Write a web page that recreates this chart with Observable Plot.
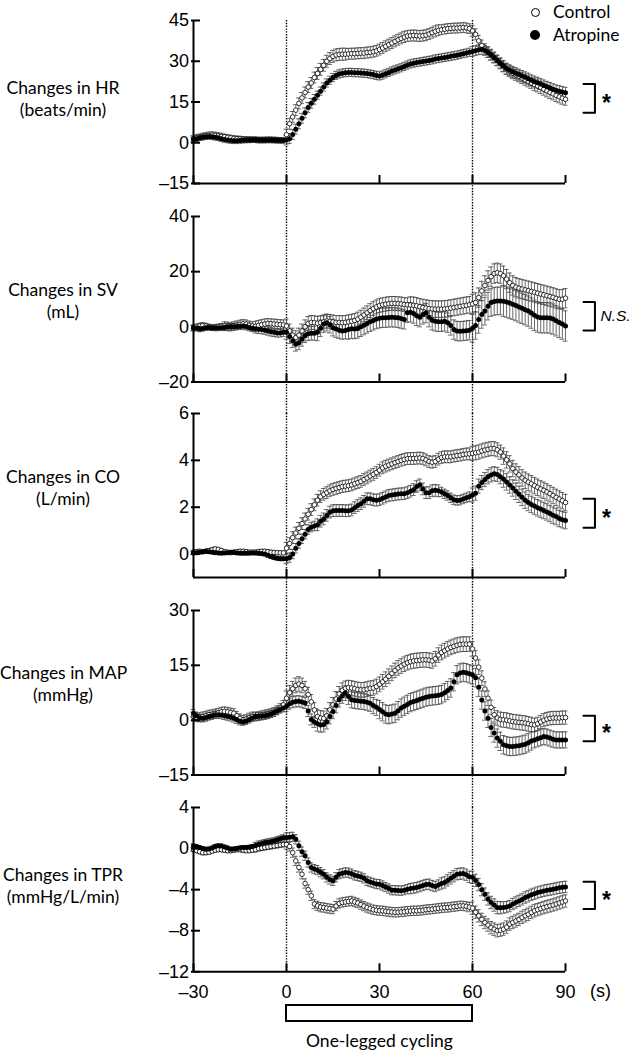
<!DOCTYPE html>
<html><head><meta charset="utf-8">
<script src="https://cdn.jsdelivr.net/npm/d3@7"></script>
<script src="https://cdn.jsdelivr.net/npm/@observablehq/plot@0.6"></script>
<style>
body{margin:0;background:#fff}
#chart{position:relative;width:631px;height:1053px;overflow:hidden;background:#fff}
.lab{position:absolute;left:0;width:126px;text-align:center;font-family:Lato,sans-serif;font-size:17.5px;line-height:22px;color:#000;white-space:nowrap}
.leg{position:absolute;left:553px;font-family:Lato,sans-serif;font-size:17.5px;line-height:22px;color:#000}
.mk{position:absolute;border-radius:50%;box-sizing:border-box}
</style></head><body><div id="chart"></div><script>
// ---- time grid (s) ----
const time = d3.range(-30, 91);
const xTicks = [-30, 0, 30, 60, 90];
const cyclingOnOff = [0, 60];

// ---- HR (beats/min) ----
const hrControl = [1.5,1.8,2.0,2.3,2.5,2.7,2.8,2.7,2.5,2.3, 2.2,2.0,1.8,1.6,1.5,1.4,1.3,1.2,1.2,1.1, 1.1,1.0,1.0,1.0,1.1,1.1,1.0,1.0,0.9,0.9,
 3.0,7.0,9.5,12.0,14.5,16.5,18.5,20.5,22.0,24.0, 25.5,27.0,28.5,30.0,31.0,31.8,32.3,32.5,32.6,32.6, 32.7,32.8,32.8,32.9,33.0,33.0,33.2,33.3,33.5,33.8,
 34.3,34.9,35.5,36.1,36.7,37.3,37.9,38.4,38.9,39.3, 39.4,39.5,39.4,39.3,39.4,39.6,40.0,40.5,41.0,41.4, 41.6,41.8,42.0,42.1,42.2,42.2,42.3,42.4,42.3,42.0,
 41.2,39.9,37.5,35.8,34.4,33.4,32.4,31.4,30.3,29.2, 28.1,27.1,26.3,25.6,25.0,24.4,23.8,23.2,22.6,22.0, 21.4,20.9,20.3,19.7,19.1,18.5,18.0,17.4,16.9,16.4, 16.0];
const hrAtropine = [1.2,1.5,1.8,2.0,2.2,2.3,2.2,2.0,1.8,1.5, 1.2,1.0,0.8,0.7,0.7,0.8,0.9,1.0,1.0,1.1, 1.1,1.0,1.0,1.0,1.0,1.0,1.0,0.9,0.9,0.9,
 1.0,1.5,3.0,5.0,7.0,9.0,11.0,13.0,14.5,16.0, 17.5,19.0,20.5,22.0,23.0,24.0,24.8,25.3,25.6,25.8, 25.9,25.9,25.8,25.8,25.7,25.6,25.5,25.3,25.1,24.8,
 24.6,24.9,25.4,25.9,26.4,26.8,27.2,27.6,28.1,28.6, 29.0,29.3,29.5,29.7,29.9,30.1,30.3,30.5,30.8,31.0, 31.2,31.4,31.6,31.8,32.0,32.2,32.5,32.8,33.0,33.3,
 33.6,33.9,34.2,34.4,34.0,33.2,32.3,31.3,30.3,29.3, 28.3,27.3,26.7,26.1,25.6,25.1,24.6,24.1,23.6,23.0, 22.5,22.1,21.6,21.1,20.6,20.2,19.7,19.3,19.0,18.7, 18.4];
const hrControlSem = [1.2,1.0,1.0,2.0,2.2,2.0,2.0,2.0,1.8,2.0,2.0,2.2];
const hrAtropineSem = [1.0,1.0,1.0,1.8,1.5,1.5,1.5,1.5,1.5,1.8,2.0,2.0];

// ---- SV (mL) ----
const svControl = [-0.5,0.0,0.3,0.5,0.3,0.0,-0.3,-0.2,0.0,0.2, 0.3,0.2,0.0,0.3,0.6,0.9,1.1,1.0,0.6,0.3, 0.2,0.5,0.8,1.0,1.2,1.1,1.0,0.9,0.8,0.7,
 0.3,-1.5,-3.0,-3.9,-3.0,-1.5,0.0,1.2,1.6,1.5, 1.3,1.5,1.8,2.1,2.0,1.8,1.6,1.6,1.5,1.6, 1.8,2.0,2.3,2.8,3.5,4.3,5.1,5.9,6.6,7.2,
 7.7,8.0,8.2,8.4,8.5,8.5,8.4,8.3,8.1,8.0, 7.9,7.8,7.6,7.3,7.0,6.8,6.6,6.5,6.4,6.4, 6.4,6.5,6.6,6.8,7.0,7.2,7.4,7.6,7.8,8.0,
 8.3,8.8,10.6,13.0,15.0,16.8,18.2,19.3,19.6,19.3, 18.5,17.3,16.0,15.0,14.4,14.0,13.7,13.4,13.1,12.8, 12.5,12.2,11.9,11.6,11.3,11.0,10.7,10.3,10.0,10.0, 10.4];
const svAtropine = [-0.3,-0.5,-0.8,-0.6,-0.3,-0.2,-0.3,-0.4,-0.4,-0.3, -0.2,-0.1,0.0,0.0,0.1,0.2,0.3,0.1,-0.2,-0.5, -0.7,-0.9,-1.0,-1.2,-1.5,-1.8,-2.0,-2.2,-2.2,-2.0,
 -2.0,-3.5,-5.0,-6.3,-5.8,-4.5,-3.2,-2.5,-2.3,-2.3, -2.0,-0.5,1.0,1.5,0.8,-0.3,-0.8,-1.2,-1.5,-1.3, -1.0,-0.7,-0.8,-0.6,0.0,0.6,1.2,1.8,2.3,2.8,
 3.1,3.3,3.3,3.4,3.5,3.4,3.3,3.0,2.7,5.1, 5.3,4.8,4.0,3.5,4.5,5.0,3.5,2.4,2.0,1.8, 1.8,2.0,1.5,0.5,-1.0,-1.5,-1.6,-1.5,-1.4,-1.2,
 -0.5,0.5,2.7,4.5,5.7,7.5,8.8,9.2,9.4,9.4, 9.3,9.0,8.6,8.2,7.7,7.2,6.7,6.2,5.7,5.0, 4.2,3.6,3.3,3.3,3.3,3.2,2.8,2.2,1.6,1.0, 0.3];
const svControlSem = [1.0,1.5,1.8,2.5,2.5,2.5,2.5,3.0,3.0,3.5,3.5,3.5];
const svAtropineSem = [1.0,1.2,1.5,2.5,3.0,3.5,3.5,3.5,3.5,5.0,5.5,5.5];

// ---- CO (L/min) ----
const coControl = [0.08,0.10,0.12,0.10,0.12,0.15,0.18,0.22,0.20,0.15, 0.10,0.08,0.06,0.08,0.10,0.12,0.12,0.10,0.08,0.08, 0.08,0.10,0.12,0.12,0.10,0.08,0.07,0.06,0.05,0.05,
 0.25,0.45,0.70,0.90,1.10,1.30,1.50,1.70,1.90,2.10, 2.30,2.45,2.55,2.62,2.70,2.76,2.80,2.84,2.88,2.90, 2.92,2.95,3.00,3.05,3.10,3.18,3.25,3.33,3.40,3.48,
 3.58,3.68,3.75,3.80,3.85,3.90,3.95,4.00,4.04,4.07, 4.08,4.08,4.09,4.10,4.08,4.02,3.95,3.92,3.95,4.05, 4.12,4.15,4.15,4.15,4.18,4.20,4.22,4.25,4.27,4.28,
 4.30,4.32,4.35,4.40,4.44,4.47,4.50,4.50,4.45,4.35, 4.18,4.02,3.85,3.65,3.50,3.38,3.25,3.15,3.07,3.00, 2.92,2.85,2.78,2.72,2.65,2.58,2.50,2.42,2.35,2.28, 2.20];
const coAtropine = [0.05,0.06,0.08,0.10,0.12,0.10,0.08,0.06,0.05,0.04, 0.05,0.06,0.08,0.07,0.05,0.04,0.03,0.03,0.04,0.05, 0.05,0.04,0.02,0.00,-0.05,-0.10,-0.15,-0.18,-0.20,-0.20,
 -0.20,-0.15,0.00,0.25,0.45,0.65,0.85,1.05,1.15,1.20, 1.25,1.40,1.50,1.65,1.79,1.85,1.86,1.86,1.86,1.85, 1.85,1.88,1.98,2.07,2.15,2.25,2.36,2.36,2.32,2.30,
 2.32,2.38,2.44,2.50,2.52,2.54,2.56,2.57,2.58,2.62, 2.68,2.75,2.88,2.95,2.78,2.62,2.62,2.70,2.72,2.70, 2.65,2.57,2.50,2.40,2.32,2.29,2.30,2.35,2.40,2.45,
 2.52,2.60,2.90,3.05,3.18,3.30,3.38,3.43,3.40,3.30, 3.20,3.08,2.95,2.82,2.68,2.55,2.42,2.30,2.20,2.12, 2.05,1.98,1.92,1.86,1.80,1.73,1.66,1.60,1.52,1.47, 1.43];
const coControlSem = [0.08,0.08,0.08,0.25,0.25,0.25,0.25,0.25,0.25,0.30,0.35,0.35];
const coAtropineSem = [0.06,0.06,0.08,0.20,0.25,0.25,0.25,0.25,0.20,0.30,0.35,0.35];

// ---- MAP (mmHg) ----
const mapControl = [1.0,0.8,0.8,1.0,1.2,1.5,1.6,1.8,2.0,2.3, 2.4,2.3,2.1,1.9,1.2,0.5,0.1,0.3,0.7,1.0, 1.0,1.1,1.3,1.5,1.7,1.9,2.2,2.7,3.3,4.2,
 6.0,7.5,8.6,9.5,9.9,9.5,8.6,7.0,5.0,2.8, 1.0,0.6,0.5,1.2,2.8,4.2,5.8,7.2,8.2,8.7, 8.9,8.8,8.6,8.4,8.3,8.3,8.5,8.7,8.8,9.2,
 9.8,10.5,11.2,12.0,12.8,13.6,14.3,14.8,15.3,15.7, 16.0,16.2,16.3,16.4,16.5,16.5,16.4,16.2,16.8,17.8, 18.5,19.0,19.5,19.9,20.2,20.5,20.7,20.8,20.8,20.8,
 19.5,17.0,14.5,11.5,8.5,6.0,3.5,1.5,0.6,0.2, 0.1,0.0,-0.2,-0.4,-0.5,-0.6,-0.7,-0.8,-1.0,-1.2, -1.3,-1.0,-0.5,0.0,0.3,0.5,0.6,0.6,0.6,0.7, 0.7];
const mapAtropine = [1.9,1.2,0.6,0.5,0.7,1.0,1.2,1.5,1.5,1.4, 1.2,1.0,0.8,0.5,0.1,-0.3,-0.4,-0.2,0.2,0.6, 1.0,1.1,1.1,1.2,1.4,1.7,2.1,2.5,2.9,3.3,
 3.8,4.5,4.9,5.1,5.2,5.0,4.7,2.5,0.2,-0.5, -1.0,-1.3,-1.2,-0.4,1.0,2.4,4.0,5.6,6.6,7.4, 6.5,5.6,5.4,5.3,5.2,5.1,4.9,4.6,4.0,3.5,
 2.9,2.3,1.7,1.5,1.7,1.9,2.6,3.3,3.8,4.3, 4.8,5.1,5.4,5.7,6.0,6.3,6.5,6.6,6.7,6.8, 7.0,7.5,8.1,8.8,10.5,12.4,12.9,13.1,13.0,12.7,
 12.4,11.6,9.0,5.5,2.5,0.5,-2.0,-3.5,-4.9,-5.8, -6.7,-7.0,-7.2,-7.2,-7.1,-7.0,-6.8,-6.6,-6.2,-5.7, -5.4,-5.1,-4.8,-4.5,-4.6,-4.9,-5.2,-5.4,-5.4,-5.4, -5.4];
const mapControlSem = [1.2,1.2,1.2,2.0,2.0,2.0,2.0,2.0,2.0,2.0,2.0,1.8];
const mapAtropineSem = [1.0,1.0,1.0,1.5,2.0,2.2,2.5,2.5,2.5,2.5,2.5,2.2];

// ---- TPR (mmHg/L/min) ----
const tprControl = [-0.10,-0.20,-0.30,-0.40,-0.40,-0.35,-0.25,-0.15,-0.10,-0.10, -0.15,-0.20,-0.20,-0.15,-0.10,-0.10,-0.15,-0.20,-0.20,-0.15, -0.10,0.00,0.05,0.10,0.15,0.20,0.25,0.30,0.35,0.40,
 0.40,0.20,-0.40,-1.20,-1.84,-2.50,-3.40,-4.00,-4.60,-5.40, -5.58,-5.70,-5.74,-5.80,-5.85,-5.90,-5.60,-5.35,-5.25,-5.20, -5.15,-5.10,-5.20,-5.30,-5.45,-5.60,-5.74,-5.85,-5.95,-6.00,
 -6.05,-6.06,-6.10,-6.15,-6.18,-6.20,-6.20,-6.18,-6.15,-6.10, -6.08,-6.06,-6.06,-6.04,-6.00,-5.95,-5.92,-5.90,-5.86,-5.82, -5.78,-5.75,-5.74,-5.70,-5.66,-5.62,-5.58,-5.58,-5.62,-5.70,
 -5.80,-6.20,-6.55,-6.90,-7.20,-7.45,-7.70,-7.85,-8.00,-7.95, -7.85,-7.65,-7.36,-7.20,-7.05,-6.90,-6.70,-6.55,-6.40,-6.22, -6.06,-5.95,-5.85,-5.75,-5.66,-5.58,-5.50,-5.40,-5.30,-5.20, -5.10];
const tprAtropine = [0.27,0.20,0.10,0.00,-0.06,-0.05,0.05,0.20,0.27,0.25, 0.15,0.05,-0.06,-0.05,0.00,0.05,0.10,0.10,0.12,0.20, 0.30,0.43,0.50,0.58,0.65,0.70,0.75,0.85,0.95,1.05,
 1.08,1.10,1.14,0.90,0.27,-0.30,-0.70,-1.36,-1.84,-2.00, -2.10,-2.30,-2.50,-2.80,-3.00,-3.14,-2.80,-2.50,-2.40,-2.33, -2.35,-2.45,-2.60,-2.66,-2.75,-2.90,-3.14,-3.25,-3.35,-3.45,
 -3.47,-3.60,-3.75,-3.90,-4.05,-4.05,-4.08,-4.10,-4.05,-3.95, -3.90,-3.85,-3.80,-3.70,-3.60,-3.50,-3.47,-3.60,-3.70,-3.55, -3.40,-3.30,-3.10,-2.90,-2.70,-2.50,-2.45,-2.43,-2.55,-2.75,
 -2.80,-3.10,-3.50,-4.00,-4.44,-4.90,-5.25,-5.50,-5.74,-5.76, -5.74,-5.70,-5.60,-5.40,-5.25,-5.10,-4.95,-4.77,-4.65,-4.50, -4.40,-4.28,-4.20,-4.12,-4.05,-4.00,-3.95,-3.88,-3.82,-3.77, -3.73];
const tprControlSem = [0.20,0.20,0.25,0.45,0.45,0.45,0.45,0.45,0.45,0.60,0.60,0.60];
const tprAtropineSem = [0.20,0.20,0.30,0.45,0.45,0.45,0.45,0.50,0.55,0.60,0.55,0.55];

// ---- axes, labels, significance ----
const panelNames = ["Changes in HR", "Changes in SV", "Changes in CO", "Changes in MAP", "Changes in TPR"];
const panelUnits = ["(beats/min)", "(mL)", "(L/min)", "(mmHg)", "(mmHg/L/min)"];
const yDomains = [[-15, 45], [-20, 40], [-1, 6], [-15, 30], [-12, 4]];
const yTicks = [[-15, 0, 15, 30, 45], [-20, 0, 20, 40], [0, 2, 4, 6], [-15, 0, 15, 30], [-12, -8, -4, 0, 4]];
const sigBrackets = [[11, 21.6], [-1.3, 9.0], [1.12, 2.36], [-5.8, 1.2], [-5.89, -3.23]];
const sigLabels = ["*", "N.S.", "*", "*", "*"];
const legendLabels = ["Control", "Atropine"];
const barLabel = "One-legged cycling";

const controls = [hrControl, svControl, coControl, mapControl, tprControl];
const atropines = [hrAtropine, svAtropine, coAtropine, mapAtropine, tprAtropine];
const controlSems = [hrControlSem, svControlSem, coControlSem, mapControlSem, tprControlSem];
const atropineSems = [hrAtropineSem, svAtropineSem, coAtropineSem, mapAtropineSem, tprAtropineSem];

// ---- layout (pixels) ----
const frameTops = [19.5, 215.5, 413, 609.5, 806.7];
const frameBottoms = [182.5, 381, 577, 774, 971];
const labelTops = [77, 279, 466, 662, 864];
const W = 631, ML = 193, MR = 66;
const fmt = d => d < 0 ? "\u2013" + Math.abs(d) : String(d);
const blk = t => Math.min(11, Math.floor((t + 30) / 10));
const chart = document.getElementById("chart");
const baseStyle = {fontFamily: "'Liberation Sans', Arial, sans-serif", fontSize: "18px", background: "transparent", overflow: "visible"};

for (let i = 0; i < 5; i++) {
  const mt = 20, mb = 45;
  const T = frameTops[i], B = frameBottoms[i];
  const gap = i < 4 ? frameTops[i + 1] - B : 0;
  const data = time.map((t, k) => ({t, c: controls[i][k], a: atropines[i][k], ec: controlSems[i][blk(t)], ea: atropineSems[i][blk(t)]}));
  const [lo, hi] = sigBrackets[i];
  const bracket = [{x: 95.8, y: hi}, {x: 99.5, y: hi}, {x: 99.5, y: lo}, {x: 95.8, y: lo}];
  const isNS = sigLabels[i] !== "*";
  const errStyle = {stroke: "#444", strokeWidth: 0.8};
  const marks = [
    Plot.ruleX(cyclingOnOff, {stroke: "#000", strokeWidth: 1.4, strokeDasharray: "1.4,1.4", insetBottom: -gap}),
    Plot.ruleX(data, {x: "t", y1: d => d.c - d.ec, y2: d => d.c + d.ec, ...errStyle}),
    Plot.ruleY(data, {y: d => d.c + d.ec, x1: d => d.t - 0.8, x2: d => d.t + 0.8, ...errStyle}),
    Plot.ruleY(data, {y: d => d.c - d.ec, x1: d => d.t - 0.8, x2: d => d.t + 0.8, ...errStyle}),
    Plot.ruleX(data, {x: "t", y1: d => d.a - d.ea, y2: d => d.a + d.ea, ...errStyle}),
    Plot.ruleY(data, {y: d => d.a + d.ea, x1: d => d.t - 0.8, x2: d => d.t + 0.8, ...errStyle}),
    Plot.ruleY(data, {y: d => d.a - d.ea, x1: d => d.t - 0.8, x2: d => d.t + 0.8, ...errStyle}),
    Plot.dot(data, {x: "t", y: "c", r: 2.3, fill: "white", stroke: "black", strokeWidth: 0.8}),
    Plot.dot(data, {x: "t", y: "a", r: 2.5, fill: "black", stroke: "none"}),
    Plot.ruleX([-30], {stroke: "black", strokeWidth: 2}),
    Plot.ruleY([yDomains[i][0]], {stroke: "black", strokeWidth: 2}),
    Plot.axisY(yTicks[i], {tickSize: 0, tickPadding: 4.5, tickFormat: fmt, label: null}),
    Plot.axisY(yTicks[i], {tickSize: 9, dx: 7, strokeWidth: 2, tickFormat: () => "", label: null}),
    Plot.axisX(xTicks, {tickSize: 8, dy: -8, strokeWidth: 2, tickFormat: () => "", label: null}),
    Plot.line(bracket, {x: "x", y: "y", stroke: "black", strokeWidth: 2, curve: "linear"}),
    Plot.text([sigLabels[i]], {x: 99.5, y: (lo + hi) / 2, text: d => d, textAnchor: "start",
      dx: isNS ? 5.5 : 7, dy: isNS ? 0 : 5,
      fontSize: isNS ? 15.5 : 23, fontWeight: isNS ? "normal" : "bold", fontStyle: isNS ? "italic" : "normal"})
  ];
  if (i === 4) {
    marks.push(Plot.axisX(xTicks, {tickSize: 0, tickPadding: 13, tickFormat: fmt, label: null}));
    marks.push(Plot.text(["(s)"], {frameAnchor: "bottom-right", text: d => d, dx: 35, dy: 19,
      textAnchor: "middle", lineAnchor: "middle", fontSize: 18}));
  }
  const svg = Plot.plot({
    width: W, height: mt + (B - T) + mb,
    marginLeft: ML, marginRight: MR, marginTop: mt, marginBottom: mb,
    x: {domain: [-30, 90], label: null},
    y: {domain: yDomains[i], label: null},
    style: baseStyle,
    marks
  });
  svg.style.position = "absolute";
  svg.style.left = "0px";
  svg.style.top = (T - mt) + "px";
  chart.appendChild(svg);

  const lab = document.createElement("div");
  lab.className = "lab";
  lab.style.top = labelTops[i] + "px";
  lab.innerHTML = panelNames[i] + "<br>" + panelUnits[i];
  chart.appendChild(lab);
}

// bottom cycling bar
{
  const mt = 10, mb = 40;
  const svg = Plot.plot({
    width: W, height: mt + 16 + mb,
    marginLeft: ML, marginRight: MR, marginTop: mt, marginBottom: mb,
    x: {domain: [-30, 90], axis: null},
    style: baseStyle,
    marks: [
      Plot.rect([cyclingOnOff], {x1: d => d[0], x2: d => d[1], fill: "white", stroke: "black", strokeWidth: 2}),
      Plot.text([barLabel], {x: d => 30, frameAnchor: "bottom", text: d => d, dy: 20, lineAnchor: "middle", fontSize: 17.5, fontFamily: "Lato, sans-serif"})
    ]
  });
  svg.style.position = "absolute";
  svg.style.left = "0px";
  svg.style.top = (1005 - mt) + "px";
  chart.appendChild(svg);
}

// legend
legendLabels.forEach((name, j) => {
  const cy = j === 0 ? 12 : 35;
  const m = document.createElement("div");
  m.className = "mk";
  if (j === 0) {
    m.style.cssText += `left:${535 - 4.5}px;top:${cy - 4.5}px;width:9px;height:9px;border:1.6px solid #000;background:#fff;`;
  } else {
    m.style.cssText += `left:${535 - 5}px;top:${cy - 5}px;width:10px;height:10px;background:#000;`;
  }
  chart.appendChild(m);
  const t = document.createElement("div");
  t.className = "leg";
  t.style.top = (cy - 11) + "px";
  t.textContent = name;
  chart.appendChild(t);
});
</script></body></html>
